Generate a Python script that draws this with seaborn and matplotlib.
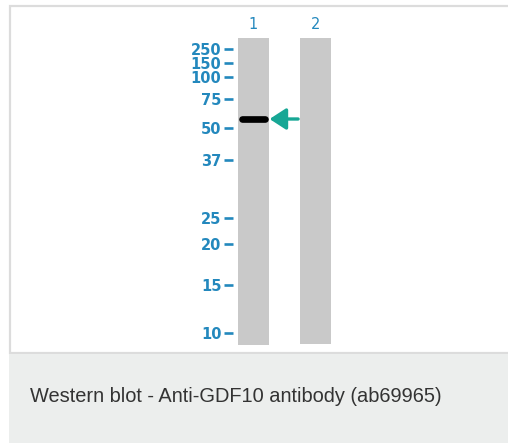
import pandas as pd
import matplotlib.pyplot as plt
import matplotlib.patches as mpatches
import seaborn as sns

# lanes of the blot
lanes = ["1", "2"]
lane_length = [307, 306]          # migration distance of each lane strip

# marker ladder (kDa) and their migration distance from the top of the lanes
marker_kda = ["250", "150", "100", "75", "50", "37", "25", "20", "15", "10"]
marker_pos = [11, 25, 39, 61, 90, 122, 180, 206, 247, 295]

# the detected band
band_lane = 0
band_pos = 81

caption = "Western blot - Anti-GDF10 antibody (ab69965)"

blue = "#2388bd"
teal = "#17a795"

W, H = 508, 443
fig = plt.figure(figsize=(W / 100, H / 100), dpi=100)
fig.patch.set_facecolor("white")

# white panel with light border, grey caption strip below
fig.patches.append(mpatches.Rectangle((10 / W, 1 - 353 / H), 1, 347 / H, transform=fig.transFigure,
                                      facecolor="white", edgecolor="#dcdcdc", lw=1.6, zorder=-2))
fig.patches.append(mpatches.Rectangle((9 / W, 0), 1, 1 - 354 / H, transform=fig.transFigure,
                                      facecolor="#eceeed", edgecolor="none", zorder=-2))
fig.text(30 / W, 1 - 397 / H, caption, fontsize=14.4, color="#333333",
         family="Liberation Sans", va="center", ha="left")

# blot axes: left edge sits at the end of the marker ticks
ax = fig.add_axes([233 / W, 1 - 345 / H, 107 / W, 307 / H])
ax.set_zorder(2)
df = pd.DataFrame({"lane": lanes, "length": lane_length})
sns.barplot(data=df, x="lane", y="length", color="#c9c9c9", saturation=1, width=0.5, ax=ax)
ax.set_xlim(-0.33, 1.396)
ax.set_ylim(307, 0)

# band
ax.plot([band_lane - 0.19, band_lane + 0.19], [band_pos, band_pos], color="black",
        lw=4.8, solid_capstyle="round", zorder=5)
ax.plot([band_lane - 0.22, band_lane + 0.22], [band_pos, band_pos], color="black",
        lw=2.6, alpha=0.6, solid_capstyle="butt", zorder=5)

# arrow pointing at the band
ax.annotate("", xy=(band_lane + 0.26, band_pos), xytext=(band_lane + 0.72, band_pos),
            arrowprops=dict(arrowstyle="-|>,head_length=1.0,head_width=0.65", color=teal, lw=2.4,
                            shrinkA=0, shrinkB=0),
            annotation_clip=False)

ax.set_yticks(marker_pos)
ax.set_yticklabels(marker_kda)
ax.tick_params(axis="y", length=6.8, width=1.9, color=blue, labelcolor=blue, pad=1.5, labelsize=10.5)
for t in ax.get_yticklabels():
    t.set_fontweight("bold")

ax.xaxis.tick_top()
ax.tick_params(axis="x", length=0, labelcolor=blue, pad=4, labelsize=10.5)
ax.set_xlabel("")
ax.set_ylabel("")
for s in ax.spines.values():
    s.set_visible(False)
ax.set_facecolor("none")

fig.savefig("out.png", dpi=100)
